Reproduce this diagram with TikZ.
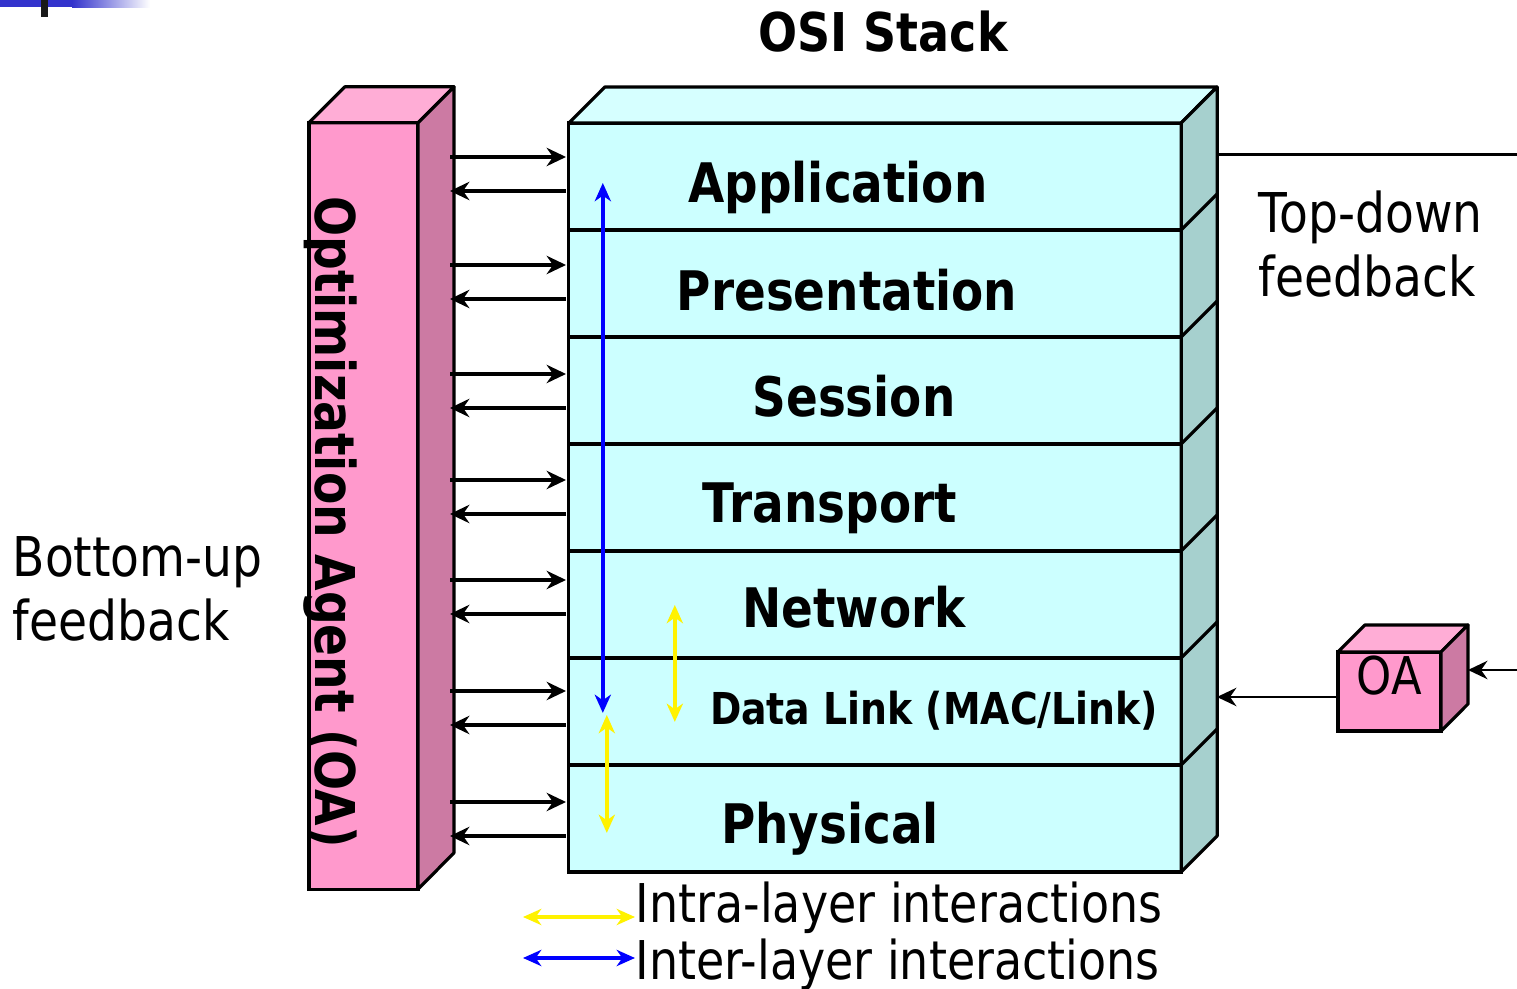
\documentclass[tikz,border=0pt]{standalone}
\usepackage{fontspec}
\setmainfont[FakeStretch=0.86]{DejaVu Sans}
\usepackage{tikz}
\usetikzlibrary{arrows.meta,calc,positioning}

\definecolor{stackfront}{RGB}{204,255,255}
\definecolor{stacktop}{RGB}{214,255,255}
\definecolor{stackside}{RGB}{166,208,206}
\definecolor{oafront}{RGB}{255,153,204}
\definecolor{oatop}{RGB}{255,173,214}
\definecolor{oaside}{RGB}{204,122,163}
\definecolor{slideblue}{RGB}{51,51,204}

\tikzstyle{osilayer} = [rectangle, draw=black, line width=0.9pt, fill=stackfront, minimum width=6.12cm, minimum height=1.07cm, inner sep=0pt, outer sep=0pt]
\tikzstyle{oacol} = [rectangle, draw=black, line width=0.9pt, fill=oafront, minimum width=1.09cm, minimum height=7.66cm, inner sep=0pt, outer sep=0pt]
\tikzstyle{oabox} = [rectangle, draw=black, line width=0.9pt, fill=oafront, minimum width=1.03cm, minimum height=0.79cm, inner sep=0pt, outer sep=0pt]
\tikzstyle{sideface} = [draw=black, line width=0.9pt, line join=round]
\tikzstyle{lname} = [font=\bfseries\fontsize{15.5}{18}\selectfont, inner sep=0pt, anchor=base]
\tikzstyle{fbtext} = [font=\fontsize{15.6}{18.2}\selectfont, inner sep=0pt, align=left]
\tikzstyle{arrow} = [line width=1.1pt, -{Stealth[length=5.5pt,width=5.2pt,inset=1.8pt]}]
\tikzstyle{inter} = [line width=1pt, draw=blue, fill=blue, {Stealth[length=5.2pt,width=4.6pt,inset=1.6pt]}-{Stealth[length=5.2pt,width=4.6pt,inset=1.6pt]}]
\tikzstyle{intra} = [inter, draw=yellow, fill=yellow]

\begin{document}
\begin{tikzpicture}[x=0.01cm,y=-0.01cm]
\useasboundingbox (0,0) rectangle (1517,989);

\fill[slideblue] (0,0) rectangle (72,7);
\shade[left color=slideblue, right color=white] (72,0) rectangle (150,8);
\fill[black!90] (41,0) rectangle (48,17);

\node[font=\bfseries\fontsize{15.2}{18}\selectfont, inner sep=0pt, anchor=base] (title) at (883,52) {OSI Stack};

% the seven layers
\foreach \name/\i in {app/0,pres/1,sess/2,trans/3,net/4,dlink/5,phys/6}
  \node[osilayer] (\name) at (875,{176.5+107*\i}) {};
\filldraw[sideface, fill=stacktop] (app.north west) -- ++(36,-36) -- ++(612,0) -- (app.north east) -- cycle;
\filldraw[sideface, fill=stackside] (app.north east) -- ++(36,-36) -- ($(phys.south east)+(36,-36)$) -- (phys.south east) -- cycle;
\foreach \name in {app,pres,sess,trans,net,dlink}
  \draw[sideface] (\name.south east) -- ++(36,-36);

\node[lname] (app-t) at (838,203) {Application};
\node[lname] (pres-t) at (847,311) {Presentation};
\node[lname] (sess-t) at (854,417) {Session};
\node[lname] (trans-t) at (830,523) {Transport};
\node[lname] (net-t) at (854,628) {Network};
\node[lname, font=\bfseries\fontsize{12.5}{15}\selectfont] (dlink-t) at (934,725) {Data Link (MAC/Link)};
\node[lname] (phys-t) at (830,844) {Physical};

% optimization agent
\node[oacol] (oa) at (363.5,506) {};
\filldraw[sideface, fill=oatop] (oa.north west) -- ++(36,-36) -- ++(109,0) -- (oa.north east) -- cycle;
\filldraw[sideface, fill=oaside] (oa.north east) -- ++(36,-36) -- ++(0,766) -- (oa.south east) -- cycle;
\node[rotate=-90, anchor=base, font=\bfseries\fontsize{15.6}{18}\selectfont, inner sep=0pt] (oa-t) at (315,522) {Optimization Agent (OA)};

\coordinate (oaedge) at (450,0);
\foreach \name/\ya/\yb in {app/157/191,pres/265/299,sess/374/408,trans/480/514,net/580/614,dlink/691/725,phys/802/836} {
  \draw[arrow, shorten >=0.8pt] (oaedge |- 0,\ya) -- (\name.west |- 0,\ya);
  \draw[arrow, shorten <=0.8pt] (\name.west |- 0,\yb) -- (oaedge |- 0,\yb);
}

\draw[inter] ($(app.north west)+(34,60)$) -- ($(dlink.north west)+(34,55)$);
\draw[intra] ($(net.north west)+(106,54)$) -- ($(dlink.north west)+(106,64)$);
\draw[intra] ($(dlink.north west)+(38,57)$) -- ($(phys.north west)+(38,68)$);

% feedback
\node[fbtext, anchor=base west] (topdown) at (1258,297) {Top-down\\feedback};
\node[fbtext, anchor=base west] (bottomup) at (12,641) {Bottom-up\\feedback};
\coordinate (stackedge) at (1217,0);
\coordinate (tdend) at (1517,155);
\draw[line width=0.85pt] (stackedge |- tdend) -- (tdend);

\node[oabox] (oab) at (1389.5,691.5) {};
\filldraw[sideface, fill=oatop] (oab.north west) -- ++(27,-27) -- ++(103,0) -- (oab.north east) -- cycle;
\filldraw[sideface, fill=oaside] (oab.north east) -- ++(27,-27) -- ++(0,79) -- (oab.south east) -- cycle;
\node[font=\fontsize{14.8}{18}\selectfont, inner sep=0pt, anchor=base] (oab-t) at (1389.5,695) {OA};
\coordinate (oaport) at ($(oab.west)+(0,5.5)$);
\coordinate (oabside) at ($(oab.east)+(27,0)$);
\coordinate (oain) at (1517,670);
\draw[arrow, line width=0.8pt] (oaport) -- (stackedge |- oaport);
\draw[arrow, line width=0.8pt] (oain) -- (oabside |- oain);

% legend
\node[fbtext, font=\fontsize{15.2}{18}\selectfont, anchor=base west] (intra) at (635,923) {Intra-layer interactions};
\node[fbtext, font=\fontsize{15.2}{18}\selectfont, anchor=base west] (inter) at (635,980) {Inter-layer interactions};
\coordinate (intra-l) at (523,917);
\coordinate (inter-l) at (523,958);
\draw[intra, line width=1.2pt] (intra-l) -- (intra-l -| intra.west);
\draw[inter, line width=1.2pt] (inter-l) -- (inter-l -| inter.west);
\end{tikzpicture}
\end{document}
